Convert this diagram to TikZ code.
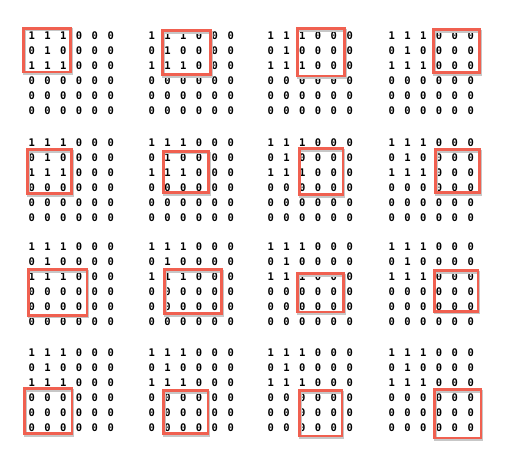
\documentclass[tikz,border=0pt]{standalone}
\usepackage{fontspec}
\setmonofont{DejaVu Sans Mono}
\definecolor{boxred}{RGB}{240,96,80}
\tikzset{
  digit/.style={font=\ttfamily\bfseries\fontsize{10.5}{10.5}\selectfont, inner sep=0pt, anchor=center, text=black},
  redbox/.style={draw=boxred, line width=2.8pt},
  boxshadow/.style={draw=black!22, line width=2.8pt},
}
\begin{document}
\begin{tikzpicture}[x=1pt,y=-1pt]
\useasboundingbox[fill=white] (0,0) rectangle (528,474);
% digits
\foreach \bx [count=\bj from 0] in {31.7,151.7,270.7,391.7}{
  \foreach \by [count=\bi from 0] in {36,142.7,246.5,352.7}{
    \foreach \row [count=\r from 0] in {{1,1,1,0,0,0},{0,1,0,0,0,0},{1,1,1,0,0,0},{0,0,0,0,0,0},{0,0,0,0,0,0},{0,0,0,0,0,0}}{
      \foreach \v [count=\c from 0] in \row {
        \node[digit] (d-\bi-\bj-\r-\c) at ({\bx+15.8*\c},{\by+15*\r}) {\v};
      }
    }
  }
}
% sliding windows: x1, x2, y1, y2 (outer edges)
\foreach \xa/\xb/\ya/\yb in {
  22.3/71.7/26.7/73.3, 161/211.7/29.3/76, 295.7/345.7/27.3/77.3, 432.3/480.7/28.3/74,
  26/72.7/148.3/195, 161.7/210/150/194, 297.7/344.3/147.3/196, 434.3/480.7/148.3/194,
  26.7/88.3/268.3/316.7, 163.3/222.7/268.3/315, 296/345/272.3/313.3, 432.7/479.3/269.3/312.7,
  23.3/73.3/387.3/435, 162.3/209.3/389.3/435, 298.3/343.3/389.3/437.3, 433.3/482.3/388.3/439.3}{
  \draw[boxshadow] ({\xa+1.4+0.8},{\ya+1.4+1.6}) rectangle ({\xb-1.4+0.8},{\yb-1.4+1.6});
  \draw[redbox] ({\xa+1.4},{\ya+1.4}) rectangle ({\xb-1.4},{\yb-1.4});
}
\end{tikzpicture}
\end{document}
